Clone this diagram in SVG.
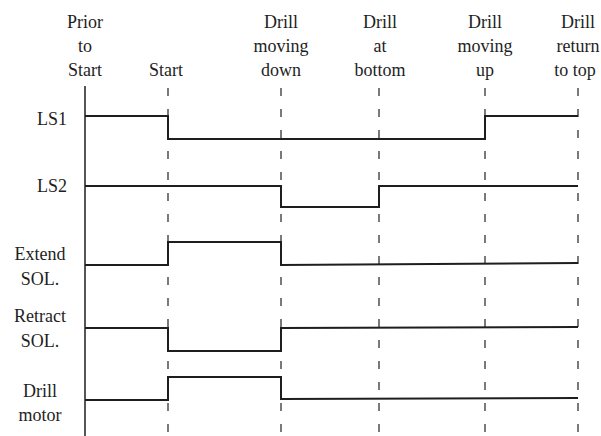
<svg xmlns="http://www.w3.org/2000/svg" width="601" height="436" viewBox="0 0 601 436">
<style>
.t{font-family:'Liberation Serif',serif;font-size:18px;fill:#1e1e1e;text-anchor:middle}
.sig{fill:none;stroke:#1e1e1e;stroke-width:2;stroke-linejoin:miter}
.dash{stroke:#333;stroke-width:1.3;stroke-dasharray:8 13}
.axis{stroke:#1e1e1e;stroke-width:1.5}
</style>
<rect width="601" height="436" fill="#fff"/>
<g id="headers" class="t">
<text x="85" y="28">Prior</text><text x="85" y="52">to</text><text x="85" y="76">Start</text>
<text x="166" y="76">Start</text>
<text x="281" y="28">Drill</text><text x="281" y="52">moving</text><text x="281" y="76">down</text>
<text x="380" y="28">Drill</text><text x="380" y="52">at</text><text x="380" y="76">bottom</text>
<text x="485" y="28">Drill</text><text x="485" y="52">moving</text><text x="485" y="76">up</text>
<text x="578" y="28">Drill</text><text x="578" y="52">return</text><text x="575" y="76">to top</text>
</g>
<g id="grid">
<line class="axis" x1="85" y1="86" x2="85" y2="436"/>
<line class="dash" x1="168" y1="88" x2="168" y2="436"/>
<line class="dash" x1="281" y1="88" x2="281" y2="436"/>
<line class="dash" x1="379" y1="88" x2="379" y2="436"/>
<line class="dash" x1="485" y1="88" x2="485" y2="436"/>
<line class="dash" x1="578" y1="88" x2="578" y2="436"/>
</g>
<g id="LS1" class="t"><text x="52" y="125">LS1</text>
<polyline class="sig" points="85,116 168,116 168,139 485,139 485,116 578,116"/></g>
<g id="LS2" class="t"><text x="52" y="192">LS2</text>
<polyline class="sig" points="85,186 281,186 281,207 379,207 379,186 578,186"/></g>
<g id="ExtendSOL" class="t"><text x="40" y="260">Extend</text><text x="40" y="285">SOL.</text>
<polyline class="sig" points="85,265 168,265 168,242 281,242 281,265 578,263"/></g>
<g id="RetractSOL" class="t"><text x="40" y="322">Retract</text><text x="40" y="347">SOL.</text>
<polyline class="sig" points="85,328 168,328 168,351 281,351 281,328 578,327"/></g>
<g id="DrillMotor" class="t"><text x="40" y="397">Drill</text><text x="40" y="421">motor</text>
<polyline class="sig" points="85,400 168,400 168,377 281,377 281,399 578,398"/></g>
</svg>
